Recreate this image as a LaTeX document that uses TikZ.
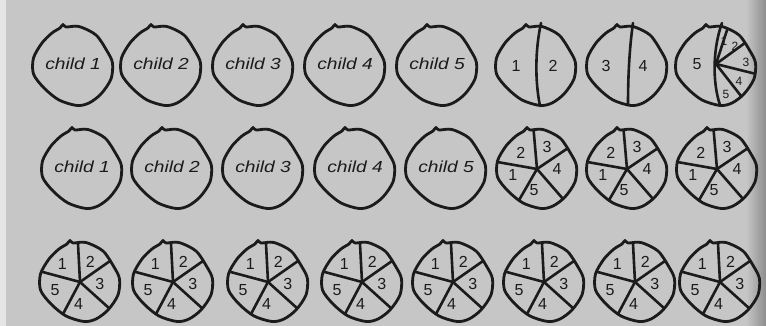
\documentclass[tikz,border=0pt]{standalone}
\usepackage{fontspec}
\setmainfont{Liberation Sans}
\definecolor{ink}{RGB}{28,26,26}
\definecolor{paper}{RGB}{198,198,198}
\tikzset{
  rim/.style={line width=2.8pt, line join=round, draw=ink},
  spoke/.style={line width=2.6pt, draw=ink, line cap=round},
  kidlabel/.style={font=\fontsize{16}{16}\selectfont\itshape, text=ink, inner sep=0pt},
  numlabel/.style={font=\fontsize{16}{16}\selectfont, text=ink, inner sep=0pt},
  smalllabel/.style={font=\fontsize{12}{12}\selectfont, text=ink, inner sep=0pt}
}
\newcommand\blobshape{plot[smooth cycle, tension=0.5] coordinates {(-10,41.5) (-7,39) (6,39.5) (23,31) (34,15) (39.5,3) (38,-13) (28,-28) (16,-37) (4,-39.5) (-14,-34) (-29,-22) (-39.5,-8) (-39.5,8) (-31,23) (-21,33) (-13,38)}}
\newcommand\kidblob[4]{% x, y, name, text
  \begin{scope}[shift={(#1,#2)}]
    \draw[rim] \blobshape;
    \node[kidlabel] (#3) at (0,2) {\scalebox{1.2}[1]{#4}};
  \end{scope}}
\newcommand\pieblob[4]{% x, y, name, spoke angles
  \begin{scope}[shift={(#1,#2)}]
    \coordinate (#3) at (0,0);
    \begin{scope}
      \clip \blobshape;
      \foreach \a in {#4} \draw[spoke] (#3) -- ++(\a:60);
    \end{scope}
    \draw[rim] \blobshape;
  \end{scope}}
\begin{document}
\begin{tikzpicture}[x=1pt,y=1pt]
\useasboundingbox (0,0) rectangle (766,326);
\fill[paper] (0,0) rectangle (766,326);
\fill[paper!45!white] (0,0) rectangle (6,326);
\shade[left color=paper, right color=black!45] (746,0) rectangle (766,326);

% ---- row 1 ----
\foreach \x [count=\i] in {73,161,253,345,437} {
  \kidblob{\x}{260}{a\i}{child \i}
}
% circle 6: 1 | 2
\begin{scope}[shift={(536,260)}]
  \draw[rim] \blobshape;
  \coordinate (a6t) at (5,43);
  \coordinate (a6b) at (4,-40);
  \draw[spoke] (a6t) .. controls (-1,15) and (-1,-15) .. (a6b);
  \node[numlabel] (a6l1) at (-20,0) {1};
  \node[numlabel] (a6l2) at (17,0) {2};
\end{scope}
% circle 7: 3 | 4
\begin{scope}[shift={(627,260)}]
  \draw[rim] \blobshape;
  \coordinate (a7t) at (6,43);
  \coordinate (a7b) at (1,-39);
  \draw[spoke] (a7t) .. controls (2,15) and (1,-15) .. (a7b);
  \node[numlabel] (a7l3) at (-21,0) {3};
  \node[numlabel] (a7l4) at (16,0) {4};
\end{scope}
% circle 8: 5 | five small
\begin{scope}[shift={(716,260)}]
  \coordinate (a8h) at (0,2);
  \coordinate (a8t) at (6,43);
  \coordinate (a8b) at (4,-39);
  \begin{scope}
    \clip \blobshape;
    \foreach \a in {72,36,-14,-52} \draw[spoke] (a8h) -- ++(\a:60);
  \end{scope}
  \draw[rim] \blobshape;
  \draw[spoke] (a8t) .. controls (-3,18) and (-4,-15) .. (a8b);
  \node[numlabel] (a8l5) at (-19,2) {5};
  \node[smalllabel] (a8s1) at (8,25) {1};
  \node[smalllabel] (a8s2) at (19,20) {2};
  \node[smalllabel] (a8s3) at (30,4) {3};
  \node[smalllabel] (a8s4) at (23,-15) {4};
  \node[smalllabel] (a8s5) at (10,-28) {5};
\end{scope}

% ---- row 2 ----
\foreach \x [count=\i] in {82,172,263,355,446} {
  \kidblob{\x}{157}{b\i}{child \i}
}
\foreach \x [count=\i from 6] in {537,627,717} {
  \pieblob{\x}{157}{b\i}{95,34,-49,240,170}
  \node[numlabel] (b\i-2) at ([shift={(135:23)}]b\i) {2};
  \node[numlabel] (b\i-3) at ([shift={(65:24)}]b\i) {3};
  \node[numlabel] (b\i-4) at ([shift={(0:20)}]b\i) {4};
  \node[numlabel] (b\i-5) at ([shift={(262:21)}]b\i) {5};
  \node[numlabel] (b\i-1) at ([shift={(195:25)}]b\i) {1};
}

% ---- row 3 ----
\foreach \x [count=\i] in {80,173,268,362,453,544,635,720} {
  \pieblob{\x}{44}{c\i}{93,35,-42,242,165}
  \node[numlabel] (c\i-1) at ([shift={(135:25)}]c\i) {1};
  \node[numlabel] (c\i-2) at ([shift={(63:23)}]c\i) {2};
  \node[numlabel] (c\i-3) at ([shift={(355:20)}]c\i) {3};
  \node[numlabel] (c\i-4) at ([shift={(266:22)}]c\i) {4};
  \node[numlabel] (c\i-5) at ([shift={(197:26)}]c\i) {5};
}
\end{tikzpicture}
\end{document}
